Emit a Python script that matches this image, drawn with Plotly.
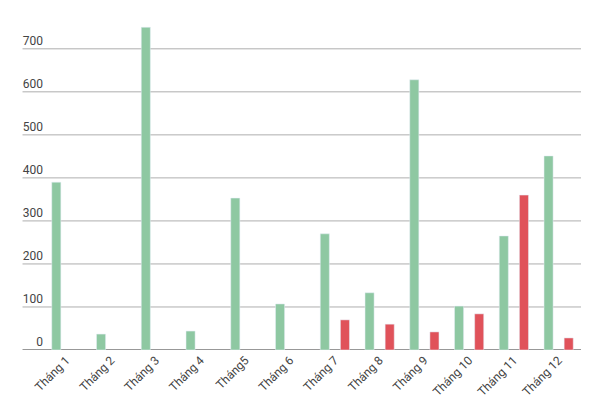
import plotly.graph_objects as go

months = ["Tháng 1","Tháng 2","Tháng 3","Tháng 4","Tháng5","Tháng 6","Tháng 7","Tháng 8","Tháng 9","Tháng 10","Tháng 11","Tháng 12"]
green = [390, 37, 750, 44, 353, 107, 270, 133, 628, 102, 265, 451]
red = [None, None, None, None, None, None, 70, 60, 42, 84, 360, 28]
yticks = [0, 100, 200, 300, 400, 500, 600, 700]

fig = go.Figure()
fig.add_bar(x=months, y=green, marker_color="#8ec8a2", name="A")
fig.add_bar(x=months, y=red, marker_color="#e0525a", name="B")

for v in yticks:
    fig.add_shape(type="line", xref="paper", yref="y", x0=-0.04, x1=1, y0=v, y1=v,
                  line=dict(color="#333" if v == 0 else "#999", width=1.2 if v == 0 else 0.8), layer="below")

fig.update_layout(
    width=600, height=413, barmode="group", bargap=0.1, bargroupgap=0.55,
    margin=dict(l=36, r=27, t=15, b=71), showlegend=False,
    plot_bgcolor="white", paper_bgcolor="white",
    font=dict(family="Roboto", size=12, color="#444"),
    xaxis=dict(tickangle=-45, showgrid=False, showline=False, ticks=""),
    yaxis=dict(range=[0, 760], tickvals=yticks, showgrid=False, zeroline=False,
               ticklabelposition="outside top", ticks=""),
)
fig.write_html("out.html")
